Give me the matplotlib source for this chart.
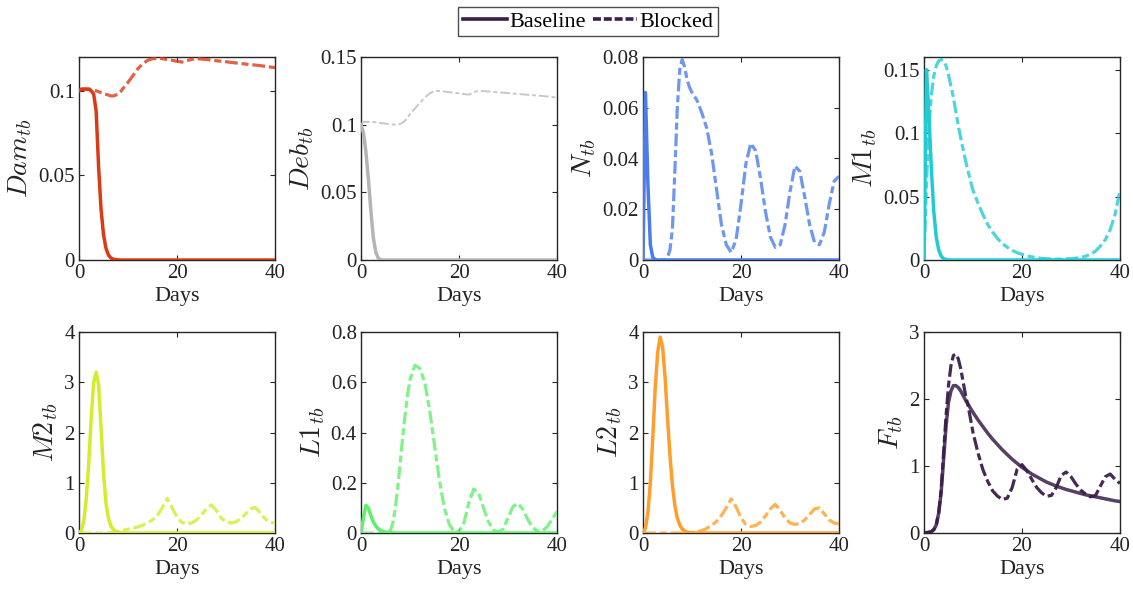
import matplotlib
matplotlib.use("Agg")
import matplotlib.pyplot as plt
from matplotlib.lines import Line2D
from matplotlib.ticker import FuncFormatter

plt.rcParams['font.family'] = ['Liberation Serif', 'DejaVu Serif']
plt.rcParams['mathtext.fontset'] = 'cm'

# time grid (days): half-day steps early, daily after day 10
t_days = [0, 0.5, 1, 1.5, 2, 2.5, 3, 3.5, 4, 4.5, 5, 5.5, 6, 6.5, 7, 7.5, 8, 8.5, 9, 9.5, 10,
          11, 12, 13, 14, 15, 16, 17, 18, 19, 20,
          21, 22, 23, 24, 25, 26, 27, 28, 29, 30,
          31, 32, 33, 34, 35, 36, 37, 38, 39, 40]

dam_base = [0.100, 0.101, 0.101, 0.101, 0.101, 0.100, 0.098, 0.088, 0.055, 0.030, 0.015, 0.007, 0.003, 0.0012, 0.0005, 0.0002, 0.0001, 0, 0, 0, 0,
            0, 0, 0, 0, 0, 0, 0, 0, 0, 0,
            0, 0, 0, 0, 0, 0, 0, 0, 0, 0,
            0, 0, 0, 0, 0, 0, 0, 0, 0, 0]
dam_block = [0.100, 0.101, 0.101, 0.101, 0.101, 0.1008, 0.1005, 0.100, 0.0995, 0.099, 0.0985, 0.098, 0.0975, 0.097, 0.097, 0.0975, 0.098, 0.0995, 0.1015, 0.103, 0.105,
             0.109, 0.113, 0.116, 0.118, 0.119, 0.1192, 0.119, 0.1185, 0.118, 0.1175,
             0.117, 0.1178, 0.1186, 0.119, 0.1188, 0.1185, 0.1182, 0.1178, 0.1175, 0.1172,
             0.1168, 0.1165, 0.1162, 0.1158, 0.1155, 0.1152, 0.1149, 0.1145, 0.1141, 0.1137]

deb_base = [0.100, 0.094, 0.080, 0.060, 0.037, 0.017, 0.006, 0.0015, 0.0003, 0, 0, 0, 0, 0, 0, 0, 0, 0, 0, 0, 0,
            0, 0, 0, 0, 0, 0, 0, 0, 0, 0,
            0, 0, 0, 0, 0, 0, 0, 0, 0, 0,
            0, 0, 0, 0, 0, 0, 0, 0, 0, 0]
deb_block = [0.100, 0.102, 0.102, 0.102, 0.102, 0.102, 0.1018, 0.1015, 0.1012, 0.101, 0.1008, 0.1005, 0.1003, 0.1001, 0.100, 0.1002, 0.1005, 0.1015, 0.103, 0.105, 0.108,
             0.112, 0.116, 0.120, 0.123, 0.125, 0.1248, 0.1245, 0.124, 0.1236, 0.1232,
             0.1226, 0.1222, 0.124, 0.125, 0.1248, 0.1245, 0.1242, 0.1239, 0.1236, 0.1233,
             0.123, 0.1227, 0.1224, 0.1221, 0.1218, 0.1215, 0.1212, 0.1208, 0.1204, 0.120]

n_base = [0, 0.066, 0.030, 0.006, 0.001, 0.0002, 0, 0, 0, 0, 0, 0, 0, 0, 0, 0, 0, 0, 0, 0, 0,
          0, 0, 0, 0, 0, 0, 0, 0, 0, 0,
          0, 0, 0, 0, 0, 0, 0, 0, 0, 0,
          0, 0, 0, 0, 0, 0, 0, 0, 0, 0]
n_block = [0, 0, 0, 0, 0, 0, 0, 0, 0, 0, 0.001, 0.004, 0.012, 0.035, 0.060, 0.075, 0.079, 0.076, 0.071, 0.068, 0.066,
           0.063, 0.058, 0.052, 0.042, 0.028, 0.014, 0.006, 0.003, 0.008, 0.022,
           0.038, 0.046, 0.043, 0.032, 0.019, 0.009, 0.005, 0.006, 0.014, 0.027,
           0.037, 0.035, 0.025, 0.014, 0.007, 0.006, 0.011, 0.022, 0.031, 0.033]

m1_base = [0, 0.150, 0.115, 0.072, 0.038, 0.018, 0.008, 0.003, 0.001, 0.0004, 0.0001, 0, 0, 0, 0, 0, 0, 0, 0, 0, 0,
           0, 0, 0, 0, 0, 0, 0, 0, 0, 0,
           0, 0, 0, 0, 0, 0, 0, 0, 0, 0,
           0, 0, 0, 0, 0, 0, 0, 0, 0, 0]
m1_block = [0, 0.060, 0.105, 0.130, 0.145, 0.153, 0.157, 0.158, 0.157, 0.153, 0.146, 0.137, 0.128, 0.117, 0.106, 0.096, 0.087, 0.078, 0.070, 0.062, 0.055,
            0.045, 0.036, 0.028, 0.022, 0.017, 0.013, 0.010, 0.0075, 0.0058, 0.0045,
            0.0033, 0.0025, 0.0018, 0.0013, 0.001, 0.0008, 0.0007, 0.0007, 0.0008, 0.001,
            0.0014, 0.002, 0.003, 0.0045, 0.007, 0.011, 0.016, 0.024, 0.036, 0.055]

m2_base = [0, 0.05, 0.25, 0.7, 1.4, 2.3, 3.0, 3.2, 2.95, 2.1, 1.2, 0.6, 0.3, 0.14, 0.07, 0.035, 0.015, 0.007, 0.003, 0.001, 0,
           0, 0, 0, 0, 0, 0, 0, 0, 0, 0,
           0, 0, 0, 0, 0, 0, 0, 0, 0, 0,
           0, 0, 0, 0, 0, 0, 0, 0, 0, 0]
m2_block = [0, 0, 0, 0, 0, 0, 0, 0, 0, 0, 0, 0.002, 0.004, 0.007, 0.01, 0.02, 0.03, 0.04, 0.05, 0.062, 0.075,
            0.095, 0.12, 0.155, 0.2, 0.26, 0.35, 0.5, 0.69, 0.5, 0.32,
            0.21, 0.18, 0.2, 0.26, 0.36, 0.48, 0.56, 0.45, 0.3, 0.22,
            0.2, 0.22, 0.28, 0.38, 0.48, 0.51, 0.4, 0.28, 0.21, 0.2]

l1_base = [0, 0.06, 0.11, 0.10, 0.07, 0.045, 0.028, 0.017, 0.010, 0.006, 0.003, 0.002, 0.001, 0.0005, 0, 0, 0, 0, 0, 0, 0,
           0, 0, 0, 0, 0, 0, 0, 0, 0, 0,
           0, 0, 0, 0, 0, 0, 0, 0, 0, 0,
           0, 0, 0, 0, 0, 0, 0, 0, 0, 0]
l1_block = [0, 0, 0, 0, 0, 0, 0, 0, 0, 0, 0, 0.002, 0.01, 0.04, 0.10, 0.18, 0.28, 0.38, 0.47, 0.55, 0.61,
            0.668, 0.655, 0.60, 0.49, 0.35, 0.21, 0.10, 0.035, 0.006, 0.006,
            0.04, 0.12, 0.175, 0.16, 0.10, 0.045, 0.012, 0.004, 0.015, 0.06,
            0.105, 0.118, 0.095, 0.055, 0.022, 0.008, 0.008, 0.025, 0.055, 0.085]

l2_base = [0, 0.1, 0.4, 1.0, 1.9, 2.9, 3.6, 3.9, 3.7, 3.1, 2.3, 1.55, 0.95, 0.55, 0.3, 0.16, 0.08, 0.04, 0.02, 0.01, 0.005,
           0, 0, 0, 0, 0, 0, 0, 0, 0, 0,
           0, 0, 0, 0, 0, 0, 0, 0, 0, 0,
           0, 0, 0, 0, 0, 0, 0, 0, 0, 0]
l2_block = [0, 0, 0, 0, 0, 0, 0, 0, 0, 0, 0, 0, 0, 0, 0, 0, 0, 0, 0.002, 0.005, 0.01,
            0.025, 0.05, 0.09, 0.15, 0.23, 0.35, 0.5, 0.68, 0.52, 0.3,
            0.17, 0.13, 0.15, 0.22, 0.34, 0.48, 0.57, 0.45, 0.3, 0.2,
            0.17, 0.19, 0.26, 0.37, 0.48, 0.5, 0.38, 0.26, 0.2, 0.18]

f_base = [0, 0.005, 0.01, 0.02, 0.05, 0.12, 0.3, 0.6, 1.1, 1.6, 1.95, 2.12, 2.2, 2.2, 2.17, 2.12, 2.05, 1.98, 1.92, 1.86, 1.8,
          1.69, 1.59, 1.49, 1.40, 1.32, 1.24, 1.17, 1.10, 1.04, 0.98,
          0.93, 0.88, 0.84, 0.80, 0.76, 0.73, 0.70, 0.675, 0.65, 0.63,
          0.61, 0.59, 0.57, 0.555, 0.54, 0.525, 0.51, 0.495, 0.48, 0.47]
f_block = [0, 0.005, 0.01, 0.02, 0.05, 0.12, 0.3, 0.65, 1.2, 1.75, 2.2, 2.5, 2.65, 2.67, 2.6, 2.45, 2.25, 2.05, 1.9, 1.7, 1.5,
           1.2, 0.95, 0.77, 0.63, 0.55, 0.5, 0.52, 0.68, 0.95, 1.02,
           0.93, 0.8, 0.68, 0.6, 0.55, 0.56, 0.68, 0.86, 0.91, 0.84,
           0.73, 0.64, 0.58, 0.54, 0.56, 0.7, 0.84, 0.88, 0.8, 0.74]

labels = ['Dam', 'Deb', 'N', 'M1', 'M2', 'L1', 'L2', 'F']
base_series = [dam_base, deb_base, n_base, m1_base, m2_base, l1_base, l2_base, f_base]
block_series = [dam_block, deb_block, n_block, m1_block, m2_block, l1_block, l2_block, f_block]
colors = ['#DC3A15', '#B4B4B4', '#4A7CF0', '#22CBD3', '#D3EC2E', '#5EF06B', '#FF9E2C', '#3B1E4A']
ylims = [0.12, 0.15, 0.08, 0.16, 4, 0.8, 4, 3]
yticks = [[0, 0.05, 0.1], [0, 0.05, 0.1, 0.15], [0, 0.02, 0.04, 0.06, 0.08], [0, 0.05, 0.1, 0.15],
          [0, 1, 2, 3, 4], [0, 0.2, 0.4, 0.6, 0.8], [0, 1, 2, 3, 4], [0, 1, 2, 3]]

fig = plt.figure(figsize=(11.33, 5.9), dpi=100)
W, H = 1133, 590
lefts = [79, 361, 643, 924]
rows = [(57, 260), (332, 533)]
dash = (0, (4.0, 1.2, 2.2, 1.2))
axcol = '#262626'

for i in range(8):
    r, c = divmod(i, 4)
    top, bot = rows[r]
    ax = fig.add_axes([lefts[c] / W, 1 - bot / H, 196 / W, (bot - top) / H])
    col = colors[i]
    if labels[i] == 'Deb':
        ax.plot(t_days, block_series[i], color='#C8C8C8', lw=1.4, ls=(0, (5, 1.5, 2, 1.5)), zorder=3)
    elif labels[i] == 'F':
        ax.plot(t_days, block_series[i], color=col, lw=2.3, ls=dash, alpha=0.95, zorder=3)
    else:
        ax.plot(t_days, block_series[i], color=col, lw=2.3, ls=dash, alpha=0.8, zorder=3)
    ax.plot(t_days, base_series[i], color=col, lw=2.5, alpha=0.85 if labels[i] == 'F' else 1, zorder=4,
            solid_joinstyle='round')
    ax.set_xlim(0, 40)
    ax.set_ylim(0, ylims[i])
    ax.set_xticks([0, 20, 40])
    ax.set_yticks(yticks[i])
    ax.yaxis.set_major_formatter(FuncFormatter(lambda v, p: f'{v:g}'))
    ax.tick_params(direction='in', top=True, right=True, length=3.5, width=0.8, labelsize=15,
                   colors=axcol, labelcolor='#222222', pad=3)
    for s in ax.spines.values():
        s.set_color(axcol)
        s.set_linewidth(1.0)
    ax.set_xlabel('Days', fontsize=16, color='#222222', labelpad=3)
    ax.set_ylabel(r'$%s_{tb}$' % labels[i], fontsize=20, color='#222222', labelpad=3)

handles = [Line2D([], [], color='#3B1E4A', lw=2.6),
           Line2D([], [], color='#3B1E4A', lw=2.6, ls=(0, (2.2, 0.8)))]
leg = fig.legend(handles, ['Baseline', 'Blocked'], loc='upper center', bbox_to_anchor=(0.519, 1.0),
                 ncol=2, fontsize=16, frameon=True, fancybox=False, edgecolor='#222222',
                 handlelength=2.0, handletextpad=0.1, columnspacing=0.3, borderpad=0.2,
                 borderaxespad=0.3)
leg.get_frame().set_linewidth(1.0)

fig.savefig('out.png', dpi=100)
